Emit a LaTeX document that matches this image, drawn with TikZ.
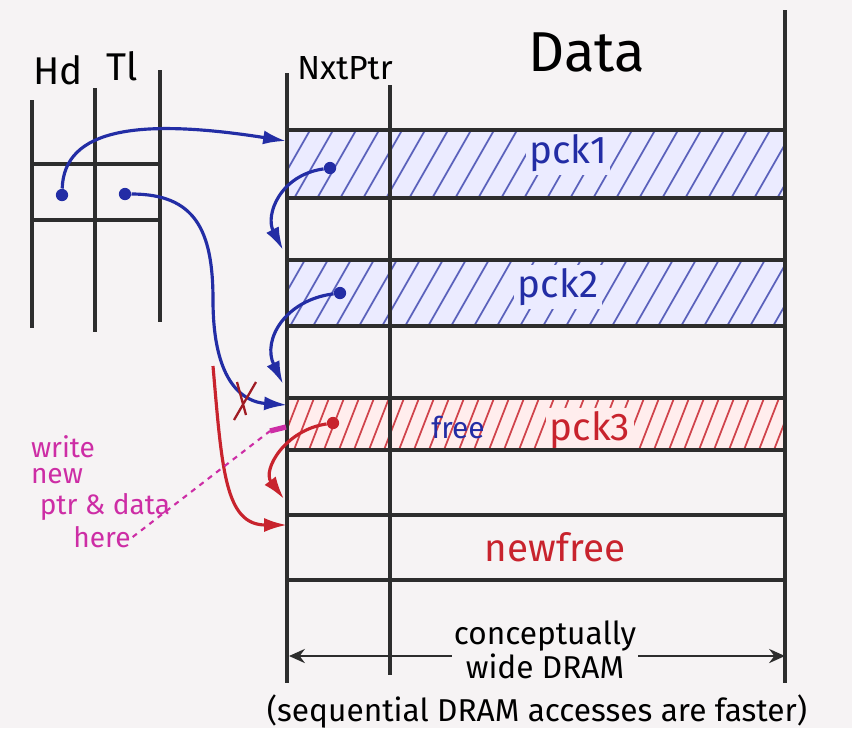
\documentclass[tikz,border=0pt]{standalone}
\usepackage{fontspec}
\setmainfont{Fira Sans}
\usetikzlibrary{arrows.meta,positioning}

\definecolor{penblue}{RGB}{35,45,165}
\definecolor{penred}{RGB}{200,35,45}
\definecolor{penpink}{RGB}{205,45,165}
\definecolor{pengray}{RGB}{45,45,45}
\definecolor{paper}{RGB}{246,243,244}

\tikzstyle{rule}=[draw=pengray,line width=1.8pt]
\tikzstyle{bluehatch}=[draw=penblue!75,line width=1pt]
\tikzstyle{redhatch}=[draw=penred!85,line width=1pt]
\tikzstyle{head}=[font=\fontsize{22}{24}\selectfont,text=black,inner sep=1pt]
\tikzstyle{tag}=[font=\fontsize{22}{24}\selectfont,inner sep=2pt]
\tikzstyle{note}=[font=\fontsize{16}{18}\selectfont,text=penpink,inner sep=1pt]
\tikzstyle{remark}=[font=\fontsize{18}{19}\selectfont,text=black,inner sep=1pt]
\tikzstyle{dot}=[circle,fill,inner sep=0pt,minimum size=7pt]
\tikzstyle{link}=[line width=1.8pt,-{Latex[length=13pt,width=8pt]}]
\tikzstyle{dim}=[draw=pengray,line width=1.5pt,-{Stealth[length=9pt,width=8pt]}]

\begin{document}
\begin{tikzpicture}[x=0.02cm,y=-0.02cm]
\fill[paper] (0,0) rectangle (852,728);
\useasboundingbox (0,0) rectangle (852,728);

% head / tail registers
\draw[rule] (32,100) -- (32,328) (95,88) -- (95,332) (160,70) -- (160,322);
\draw[rule] (32,164) -- (162,164) (32,220) -- (162,220);
\node[head] (hd) at (58,70) {Hd};
\node[head] (tl) at (122,66) {Tl};

% packet bands
\fill[blue!8] (287,130) rectangle (785,198);
\fill[blue!8] (287,260) rectangle (785,326);
\fill[red!7] (287,398) rectangle (785,450);
\begin{scope}
  \clip (287,130) rectangle (785,198) (287,260) rectangle (785,326);
  \foreach \x in {170,193,...,800}
    \draw[bluehatch] (\x,335) -- ++(120,-210);
\end{scope}
\begin{scope}
  \clip (287,398) rectangle (785,450);
  \foreach \x in {262,277,...,800}
    \draw[redhatch] (\x,455) -- ++(24,-62);
\end{scope}

\node[tag,text=penblue,fill=blue!8] (pck1) at (568,153) {pck1};
\node[tag,text=penblue,fill=blue!8] (pck2) at (558,287) {pck2};
\node[tag,text=penblue,font=\fontsize{17}{19}\selectfont] (free) at (458,427) {free};
\node[tag,text=penred,fill=red!7] (pck3) at (590,430) {pck3};
\node[tag,text=penred] (newfree) at (555,547) {newfree};

% wide DRAM
\foreach \y in {130,198,260,326,398,450,515,580}
  \draw[rule] (287,\y) -- (785,\y);
\draw[rule] (287,73) -- (287,683) (390,85) -- (390,675) (785,10) -- (785,683);
\node[head,font=\fontsize{19}{21}\selectfont] (nxtptr) at (345,68) {NxtPtr};
\node[head,font=\fontsize{32}{34}\selectfont] (data) at (587,52) {Data};

% pointers
\node[dot,penblue] (hdptr) at (62,195) {};
\node[dot,penblue] (tlptr) at (125,194) {};
\node[dot,penblue] (nxt1) at (330,168) {};
\node[dot,penblue] (nxt2) at (340,293) {};
\node[dot,penred] (nxt3) at (333,423) {};
\coordinate (in1) at (286,141);
\coordinate (in2) at (283,250);
\coordinate (in3) at (283,384);
\coordinate (in4) at (287,405);
\coordinate (in5) at (284,499);
\coordinate (in6) at (287,525);
\coordinate (oldtl) at (213,366);

\draw[link,penblue] (hdptr) .. controls (64,128) and (140,118) .. (in1);
\draw[link,penblue] (tlptr) .. controls (195,194) and (213,230) .. (213,300)
  .. controls (213,385) and (245,402) .. (in4);
\draw[link,penblue] (nxt1) .. controls (280,175) and (265,215) .. (in2);
\draw[link,penblue] (nxt2) .. controls (285,300) and (262,340) .. (in3);
\draw[link,penred] (nxt3) .. controls (285,430) and (262,470) .. (in5);
\draw[link,penred] (oldtl) .. controls (222,470) and (225,525) .. (in6);
% crossed out
\draw[penred!80!black,line width=1.3pt] (234,420) -- (256,382) (237,382) -- (246,415);

% where to write
\node[note] (w1) at (63,447) {write};
\node[note] (w2) at (57,476) {new};
\node[note] (w3) at (105,507) {ptr \& data};
\node[note] (w4) at (102,537) {here};
\coordinate (tick) at (270,431);
\draw[penpink,line width=3pt] (tick) -- ++(16,-4);
\draw[penpink,line width=1.2pt,dashed] (w4.east) -- (tick);

% width of a row
\coordinate (dimL) at (289,656);
\coordinate (dimR) at (785,656);
\node[remark,align=center] (wide) at (545,650) {conceptually\\wide DRAM};
\draw[dim] (wide.west |- dimL) -- (dimL);
\draw[dim] (wide.east |- dimR) -- (dimR);
\node[remark] (faster) at (537,711) {(sequential DRAM accesses are faster)};
\end{tikzpicture}
\end{document}
